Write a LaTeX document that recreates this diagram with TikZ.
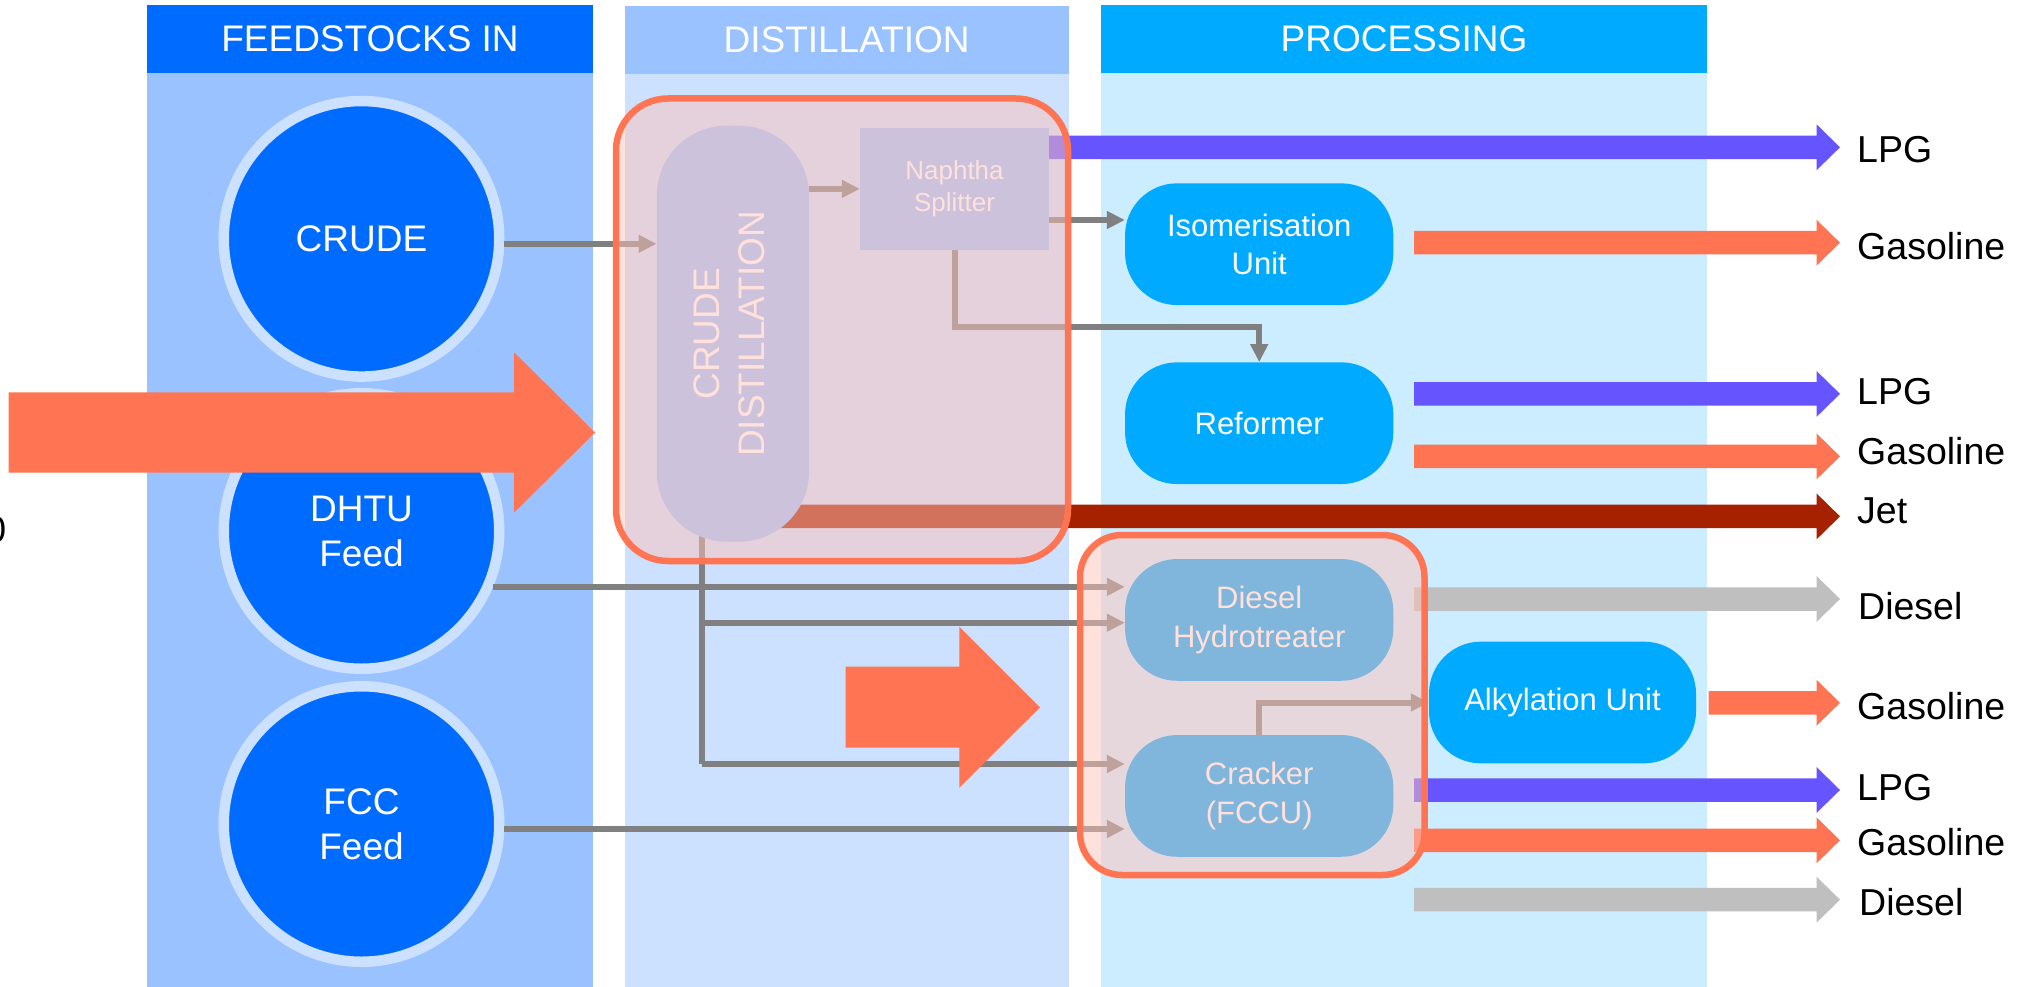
\documentclass[tikz,border=0pt]{standalone}
\usepackage{fontspec}
\setmainfont{Liberation Sans}
\usetikzlibrary{arrows.meta,calc}

\definecolor{hdrA}{RGB}{0,108,255}
\definecolor{bodyA}{RGB}{153,194,255}
\definecolor{hdrB}{RGB}{153,194,255}
\definecolor{bodyB}{RGB}{204,224,255}
\definecolor{hdrC}{RGB}{0,170,255}
\definecolor{bodyC}{RGB}{204,236,255}
\definecolor{ringC}{RGB}{204,224,255}
\definecolor{unitC}{RGB}{0,170,255}
\definecolor{pipeC}{RGB}{128,128,128}
\definecolor{lpgC}{RGB}{102,85,255}
\definecolor{gasC}{RGB}{255,116,82}
\definecolor{jetC}{RGB}{166,33,0}
\definecolor{dslC}{RGB}{191,191,191}
\definecolor{hiC}{RGB}{255,195,185}

\newcommand\fsz[2]{\fontsize{#1}{#2}\selectfont}

% product stream: shaft from the source point to a filled head at the end point
\newcommand\outflow[3]{%
  \fill[#1] let \p1=(#2), \p2=(#3) in
    (\x1,\y1+11.75pt) -- (\x2-23.5pt,\y1+11.75pt) -- (\x2-23.5pt,\y1+23pt)
    -- (\x2,\y1) -- (\x2-23.5pt,\y1-23pt) -- (\x2-23.5pt,\y1-11.75pt)
    -- (\x1,\y1-11.75pt) -- cycle;}

\begin{document}
\begin{tikzpicture}[x=1pt,y=-1pt,
  header/.style={minimum height=68pt,inner sep=0pt,text=white,font=\fsz{37}{44}},
  feedstock/.style={circle,fill=hdrA,draw=ringC,line width=10.5pt,minimum size=275.5pt,
    inner sep=0pt,text=white,font=\fsz{37}{45},align=center},
  unit/.style={rectangle,fill=unitC,rounded corners=52pt,minimum width=268.3pt,
    minimum height=121.7pt,inner sep=0pt,text=white,font=\fsz{31}{38.5},align=center},
  pipe/.style={draw=pipeC,line width=6pt,-{Triangle[length=18pt,width=17pt]}},
  hibox/.style={fill=hiC,fill opacity=0.5,draw=gasC,line width=6.5pt},
  bigarrow/.style={fill=gasC},
  outlabel/.style={anchor=base west,inner sep=0pt,font=\fsz{37.5}{44}}]

\useasboundingbox (0,0) rectangle (2036,987);

% column backgrounds
\fill[bodyA] (147,73) rectangle (593,987);
\fill[bodyB] (624.6,74) rectangle (1068.7,987);
\fill[bodyC] (1101,73) rectangle (1707,987);
\node[header,fill=hdrA,minimum width=446pt] (hFeed) at (370,39) {FEEDSTOCKS IN};
\node[header,fill=hdrB,minimum width=444pt] (hDist) at (846.6,40) {DISTILLATION};
\node[header,fill=hdrC,minimum width=606pt] (hProc) at (1404,39) {PROCESSING};

% text running off the left edge
\node[anchor=base east,inner sep=0pt,font=\fsz{37}{45}] (cut) at (6.5,542) {0};

% feedstocks
\node[feedstock] (crude) at (361.5,238.8) {CRUDE};
\node[feedstock] (dhtu) at (361.5,531) {DHTU\\Feed};
\node[feedstock] (fcc) at (361.5,824) {FCC\\Feed};

% reference points
\coordinate (tap) at (701.7,500);
\coordinate (yBr) at (0,622.7);
\coordinate (yCk) at (0,764);
\coordinate (yIs) at (0,220);
\coordinate (yRf) at (1100,327.3);
\coordinate (sx) at (1414,0);
\coordinate (jetStart) at (732.9,516.4);
\coordinate (eLPGa) at (1840,147.3);
\coordinate (eGasa) at (1840,242.7);
\coordinate (eLPGb) at (1840,393.9);
\coordinate (eGasb) at (1840,456.4);
\coordinate (eJet) at (1840,516.4);
\coordinate (eDsla) at (1840,599);
\coordinate (eGasc) at (1840,702.8);
\coordinate (eLPGc) at (1840,790);
\coordinate (eGasd) at (1840,840.3);
\coordinate (eDslb) at (1840,899.7);

% jet draw-off and side stream leave from inside the column
\outflow{jetC}{jetStart}{eJet}
\draw[draw=pipeC,line width=6pt] (tap) -- (tap |- yCk);

% units
\node[rectangle,fill=bodyA,rounded corners=70pt,minimum width=152.3pt,minimum height=416pt,
  inner sep=0pt,text=white,font=\fsz{37}{45.5}] (pill) at (732.9,333.7)
  {\rotatebox{90}{\begin{tabular}{@{}c@{}}CRUDE\\DISTILLATION\end{tabular}}};
\node[rectangle,fill=bodyA,minimum width=189pt,minimum height=122.3pt,inner sep=0pt,
  text=white,font=\fsz{26}{32},align=center] (naph) at (954.5,188.9) {Naphtha\\Splitter};
\node[unit] (iso) at (1259.2,244.2) {Isomerisation\\Unit};
\node[unit] (reformer) at (1259.2,423.2) {Reformer};
\node[unit] (dht) at (1259.2,619.9) {Diesel\\Hydrotreater};
\node[unit] (cracker) at (1259.2,795.9) {Cracker\\(FCCU)};
\node[unit,minimum width=267pt] (alk) at (1562.5,702.5) {Alkylation Unit};

% feed lines
\draw[pipe] (crude.-2.5) -- (crude.-2.5 -| pill.west);
\draw[pipe] (pill.east |- naph.west) -- (naph.west);
\draw[pipe] (naph.east |- yIs) -- (iso.west |- yIs);
\draw[pipe] (naph.south) |- (yRf) -| (reformer.north);
\draw[pipe] (dhtu.-23.4) -- (dhtu.-23.4 -| dht.west);
\draw[pipe] (tap |- yBr) -- (yBr -| dht.west);
\draw[pipe] (tap |- yCk) -- (yCk -| cracker.west);
\draw[pipe] (fcc.-2.7) -- (fcc.-2.7 -| cracker.west);
\draw[pipe] (cracker.north) |- (alk.west);

% products
\outflow{lpgC}{naph.east |- eLPGa}{eLPGa}
\outflow{gasC}{sx |- eGasa}{eGasa}
\outflow{lpgC}{sx |- eLPGb}{eLPGb}
\outflow{gasC}{sx |- eGasb}{eGasb}
\outflow{dslC}{sx |- eDsla}{eDsla}
\outflow{gasC}{1708.5,702.8}{eGasc}
\outflow{lpgC}{sx |- eLPGc}{eLPGc}
\outflow{gasC}{sx |- eGasd}{eGasd}
\outflow{dslC}{sx |- eDslb}{eDslb}

% emphasis arrows
\fill[bigarrow] (8.7,392.3) -- (514,392.3) -- (514,352.3) -- (595,432.5)
  -- (514,512.7) -- (514,472.7) -- (8.7,472.7) -- cycle;
\fill[bigarrow] (845.7,666.7) -- (959.3,666.7) -- (959.3,626.7) -- (1040,707.3)
  -- (959.3,787.7) -- (959.3,747.7) -- (845.7,747.7) -- cycle;

% highlighted areas
\draw[hibox,rounded corners=52pt] (616,98.5) rectangle (1068,561);
\draw[hibox,rounded corners=42pt] (1080,535) rectangle (1424.5,875);

% product names
\node[outlabel] (lLPGa) at (1857,162.7) {LPG};
\node[outlabel] (lGasa) at (1857,259.6) {Gasoline};
\node[outlabel] (lLPGb) at (1857,404.2) {LPG};
\node[outlabel] (lGasb) at (1857,464) {Gasoline};
\node[outlabel] (lJet) at (1857,523) {Jet};
\node[outlabel] (lDsla) at (1858,619.5) {Diesel};
\node[outlabel] (lGasc) at (1857,719) {Gasoline};
\node[outlabel] (lLPGc) at (1857,800.6) {LPG};
\node[outlabel] (lGasd) at (1857,855) {Gasoline};
\node[outlabel] (lDslb) at (1859,915) {Diesel};
\end{tikzpicture}
\end{document}
